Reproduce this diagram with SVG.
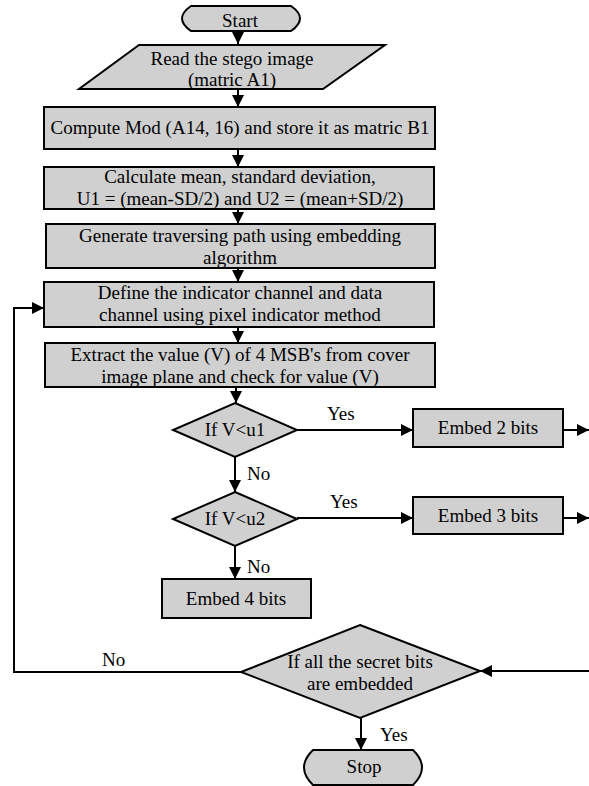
<svg xmlns="http://www.w3.org/2000/svg" width="589" height="786" viewBox="0 0 589 786">
<style>
.shape{fill:#d0d0d0;stroke:#000;stroke-width:2}
.t{font-family:"Liberation Serif","Times New Roman",serif;font-size:19px;fill:#000;text-anchor:middle}
.l{font-family:"Liberation Serif","Times New Roman",serif;font-size:19px;fill:#000}
.c{fill:none;stroke:#000;stroke-width:2}
</style>
<defs>
<marker id="ah" markerUnits="userSpaceOnUse" markerWidth="13" markerHeight="13" refX="12" refY="6" orient="auto">
<path d="M0,0 L12,6 L0,12 Z" fill="#000"/>
</marker>
</defs>
<rect width="589" height="786" fill="#fff"/>
<g id="connectors">
<line class="c" x1="238" y1="31" x2="238" y2="44" marker-end="url(#ah)"/>
<line class="c" x1="238" y1="89" x2="238" y2="107" marker-end="url(#ah)"/>
<line class="c" x1="238" y1="149" x2="238" y2="167" marker-end="url(#ah)"/>
<line class="c" x1="238" y1="209" x2="238" y2="224" marker-end="url(#ah)"/>
<line class="c" x1="238" y1="268" x2="238" y2="282" marker-end="url(#ah)"/>
<line class="c" x1="238" y1="327" x2="238" y2="343" marker-end="url(#ah)"/>
<line class="c" x1="236" y1="387" x2="236" y2="403" marker-end="url(#ah)"/>
<line class="c" x1="235" y1="457" x2="235" y2="492" marker-end="url(#ah)"/>
<line class="c" x1="235" y1="546" x2="235" y2="579" marker-end="url(#ah)"/>
<line class="c" x1="297" y1="430" x2="413" y2="430" marker-end="url(#ah)"/>
<line class="c" x1="297" y1="518" x2="413" y2="518" marker-end="url(#ah)"/>
<line class="c" x1="563" y1="430" x2="589" y2="430" marker-end="url(#ah)"/>
<line class="c" x1="563" y1="518" x2="589" y2="518" marker-end="url(#ah)"/>
<line class="c" x1="589" y1="671" x2="480" y2="671" marker-end="url(#ah)"/>
<polyline class="c" points="241,672 14,672 14,308 44,308" marker-end="url(#ah)"/>
<line class="c" x1="361" y1="718" x2="361" y2="750" marker-end="url(#ah)"/>
<text class="l" x="327" y="420">Yes</text>
<text class="l" x="330" y="508">Yes</text>
<text class="l" x="247" y="480">No</text>
<text class="l" x="247" y="573">No</text>
<text class="l" x="102" y="666">No</text>
<text class="l" x="380" y="741">Yes</text>
</g>
<g id="start">
<path class="shape" d="M191,6 H291 Q309,18.5 291,31 H191 Q173,18.5 191,6 Z"/>
<text class="t" x="240" y="27">Start</text>
</g>
<g id="read">
<polygon class="shape" points="139,45 385,45 323,89 79,89"/>
<text class="t" x="232" y="65">Read the stego image</text>
<text class="t" x="232" y="86">(matric A1)</text>
</g>
<g id="compute">
<rect class="shape" x="44" y="107" width="391" height="42"/>
<text class="t" x="240" y="134">Compute Mod (A14, 16) and store it as matric B1</text>
</g>
<g id="calculate">
<rect class="shape" x="44" y="167" width="390" height="42"/>
<text class="t" x="240" y="183">Calculate mean, standard deviation,</text>
<text class="t" x="240" y="205">U1 = (mean-SD/2) and U2 = (mean+SD/2)</text>
</g>
<g id="generate">
<rect class="shape" x="46" y="224" width="389" height="44"/>
<text class="t" x="240" y="242">Generate traversing path using embedding</text>
<text class="t" x="240" y="264">algorithm</text>
</g>
<g id="define">
<rect class="shape" x="44" y="282" width="390" height="45"/>
<text class="t" x="240" y="299">Define the indicator channel and data</text>
<text class="t" x="240" y="321">channel using pixel indicator method</text>
</g>
<g id="extract">
<rect class="shape" x="45" y="343" width="390" height="44"/>
<text class="t" x="240" y="361">Extract the value (V) of 4 MSB's from cover</text>
<text class="t" x="240" y="383">image plane and check for value (V)</text>
</g>
<g id="dec1">
<polygon class="shape" points="235,403 297,430 235,457 173,430"/>
<text class="t" x="235" y="436">If V&lt;u1</text>
</g>
<g id="dec2">
<polygon class="shape" points="235,492 297,519 235,546 173,519"/>
<text class="t" x="235" y="525">If V&lt;u2</text>
</g>
<g id="embed2">
<rect class="shape" x="413" y="409" width="150" height="38"/>
<text class="t" x="488" y="434">Embed 2 bits</text>
</g>
<g id="embed3">
<rect class="shape" x="413" y="497" width="150" height="37"/>
<text class="t" x="488" y="522">Embed 3 bits</text>
</g>
<g id="embed4">
<rect class="shape" x="162" y="579" width="149" height="39"/>
<text class="t" x="236" y="605">Embed 4 bits</text>
</g>
<g id="dec3">
<polygon class="shape" points="360,625 480,671 360,718 241,672"/>
<text class="t" x="360" y="668">If all the secret bits</text>
<text class="t" x="360" y="690">are embedded</text>
</g>
<g id="stop">
<path class="shape" d="M313,750 H413 Q431,767.5 413,785 H313 Q295,767.5 313,750 Z"/>
<text class="t" x="364" y="773">Stop</text>
</g>
</svg>
